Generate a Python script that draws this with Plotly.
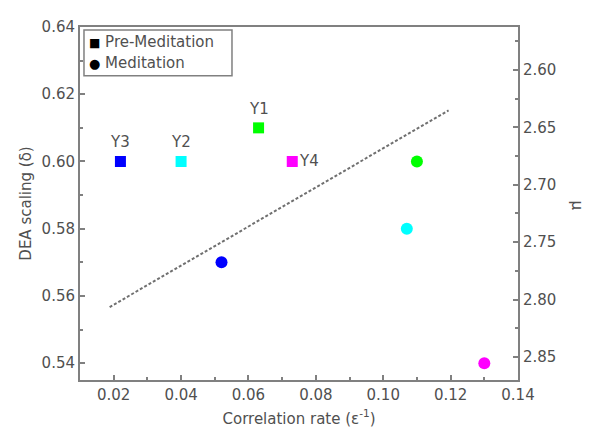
import plotly.graph_objects as go

# Data
pre_x = [0.022, 0.040, 0.063, 0.073]
pre_y = [0.600, 0.600, 0.610, 0.600]
pre_labels = ["Y3", "Y2", "Y1", "Y4"]
pre_colors = ["#0000ff", "#00ffff", "#00ff00", "#ff00ff"]

med_x = [0.052, 0.110, 0.107, 0.130]
med_y = [0.570, 0.600, 0.580, 0.540]
med_colors = ["#0000ff", "#00ff00", "#00ffff", "#ff00ff"]

fit_x = [0.0188, 0.1194]
fit_y = [0.5567, 0.6152]

legend_names = ["Pre-Meditation", "Meditation"]

FONT = "DejaVu Sans, Liberation Sans, sans-serif"
TXT = "#505050"
AX = "#808080"
FS = 15

fig = go.Figure()

fig.add_trace(go.Scatter(x=fit_x, y=fit_y, mode="lines",
                         line=dict(color="#707070", width=2, dash="3px,2px"),
                         showlegend=False, hoverinfo="skip"))

fig.add_trace(go.Scatter(x=pre_x, y=pre_y, mode="markers", name=legend_names[0],
                         marker=dict(symbol="square", size=11, color=pre_colors),
                         showlegend=False))
fig.add_trace(go.Scatter(x=med_x, y=med_y, mode="markers", name=legend_names[1],
                         marker=dict(symbol="circle", size=12, color=med_colors),
                         showlegend=False))

# invisible trace to activate the right axis
fig.add_trace(go.Scatter(x=[0.05], y=[2.7], yaxis="y2", mode="markers",
                         marker=dict(opacity=0), showlegend=False, hoverinfo="skip"))

for x, y, lab in zip(pre_x, pre_y, pre_labels):
    if lab == "Y4":
        fig.add_annotation(x=x, y=y, text=lab, showarrow=False, xanchor="left",
                           xshift=5, font=dict(size=FS, color=TXT, family=FONT))
    else:
        fig.add_annotation(x=x, y=y, text=lab, showarrow=False, yanchor="bottom",
                           yshift=8, font=dict(size=FS, color=TXT, family=FONT))

# right axis title
fig.add_annotation(x=1.0, y=0.494, xref="paper", yref="paper", text="μ", showarrow=False,
                   textangle=90, xanchor="center", yanchor="middle", xshift=59,
                   font=dict(size=FS, color=TXT, family=FONT))

# legend box (manual)
fig.add_shape(type="rect", xref="paper", yref="paper",
              x0=0.0091, x1=0.347, y0=0.8616, y1=0.9915,
              line=dict(color=AX, width=1.5), fillcolor="white", layer="above")
fig.add_annotation(x=0.017, y=0.9576, xref="paper", yref="paper",
                   text="<span style='color:black;font-size:12px'>■</span> " + legend_names[0],
                   showarrow=False, xanchor="left", yanchor="middle",
                   font=dict(size=FS, color=TXT, family=FONT))
fig.add_annotation(x=0.017, y=0.898, xref="paper", yref="paper",
                   text="<span style='color:black;font-size:13px'>●</span> " + legend_names[1],
                   showarrow=False, xanchor="left", yanchor="middle",
                   font=dict(size=FS, color=TXT, family=FONT))

axis_common = dict(showline=True, linecolor=AX, linewidth=2, ticks="inside",
                   tickcolor=AX, tickwidth=2, ticklen=5, showgrid=False, zeroline=False,
                   tickfont=dict(size=FS, color=TXT, family=FONT))

fig.update_layout(
    width=586, height=427,
    margin=dict(l=72, r=76, t=10, b=55),
    paper_bgcolor="white", plot_bgcolor="white",
    font=dict(family=FONT, color=TXT),
    showlegend=False,
    xaxis=dict(range=[0.01, 0.14], dtick=0.02, tick0=0.02, tickformat=".2f", mirror=True,
               minor=dict(ticks="inside", dtick=0.01, ticklen=3, tickcolor=AX, tickwidth=2),
               title=dict(text="Correlation rate (ε<sup>-1</sup>)", font=dict(size=FS, color=TXT, family=FONT), standoff=10),
               **axis_common),
    yaxis=dict(range=[0.535, 0.64], dtick=0.02, tick0=0.54, tickformat=".2f",
               minor=dict(ticks="inside", dtick=0.01, ticklen=3, tickcolor=AX, tickwidth=2),
               title=dict(text="DEA scaling (δ)", font=dict(size=FS, color=TXT, family=FONT), standoff=6),
               **axis_common),
    yaxis2=dict(overlaying="y", side="right", range=[2.87, 2.5627], dtick=0.05, tick0=2.60,
                tickformat=".2f",
                minor=dict(ticks="inside", dtick=0.025, ticklen=3, tickcolor=AX, tickwidth=2),
                **axis_common),
)

fig.write_html("out.html")
